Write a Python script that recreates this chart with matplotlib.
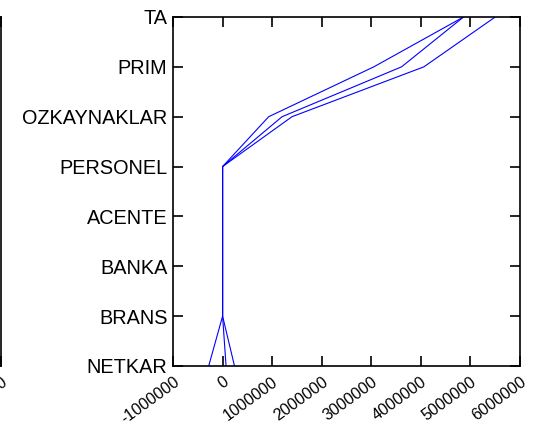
import matplotlib.pyplot as plt

plt.rcParams['font.family'] = ['Liberation Sans', 'DejaVu Sans']

categories = ['NETKAR', 'BRANS', 'BANKA', 'ACENTE',
              'PERSONEL', 'OZKAYNAKLAR', 'PRIM', 'TA']

# one profile per record, values ordered like categories (bottom to top)
series_a = [-280000, 0, 0, 0, 0, 930000, 3050000, 4860000]
series_b = [70000, 0, 0, 0, 0, 1200000, 3610000, 4860000]
series_c = [240000, 0, 0, 0, 0, 1400000, 4060000, 5500000]

xticks = [-1000000, 0, 1000000, 2000000, 3000000, 4000000, 5000000, 6000000]
xticklabels = [str(t) for t in xticks]

fig = plt.figure(figsize=(5.35, 4.28), dpi=100)


def styleAxes(ax):
    ax.tick_params(axis='both', which='both', direction='in', length=7,
                   width=1.2, top=True, right=True)
    ax.tick_params(axis='x', pad=6, labelsize=11.6)
    ax.tick_params(axis='y', pad=4, labelsize=14.3)
    for s in ax.spines.values():
        s.set_linewidth(1.2)


# neighbouring panel, only its right edge lands on the canvas
left = fig.add_axes([0.002 - 0.648, 0.1449, 0.648, 0.8154])
left.set_xlim(-1000000, 6000000)
left.set_ylim(0, 7)
left.set_xticks(xticks)
left.set_xticklabels(xticklabels, rotation=36, ha='right', va='top',
                     rotation_mode='anchor')
left.set_yticks([])
styleAxes(left)

ax = fig.add_axes([0.3234, 0.1449, 0.6486, 0.8154])
y = list(range(len(categories)))
for vals in [series_a, series_b, series_c]:
    ax.plot(vals, y, color='#0000ff', linewidth=0.8)
ax.set_xlim(-1000000, 6000000)
ax.set_ylim(0, 7)
ax.set_xticks(xticks)
ax.set_xticklabels(xticklabels, rotation=36, ha='right', va='top',
                   rotation_mode='anchor')
ax.set_yticks(y)
ax.set_yticklabels(categories)
styleAxes(ax)

fig.savefig('out.png', dpi=100)
